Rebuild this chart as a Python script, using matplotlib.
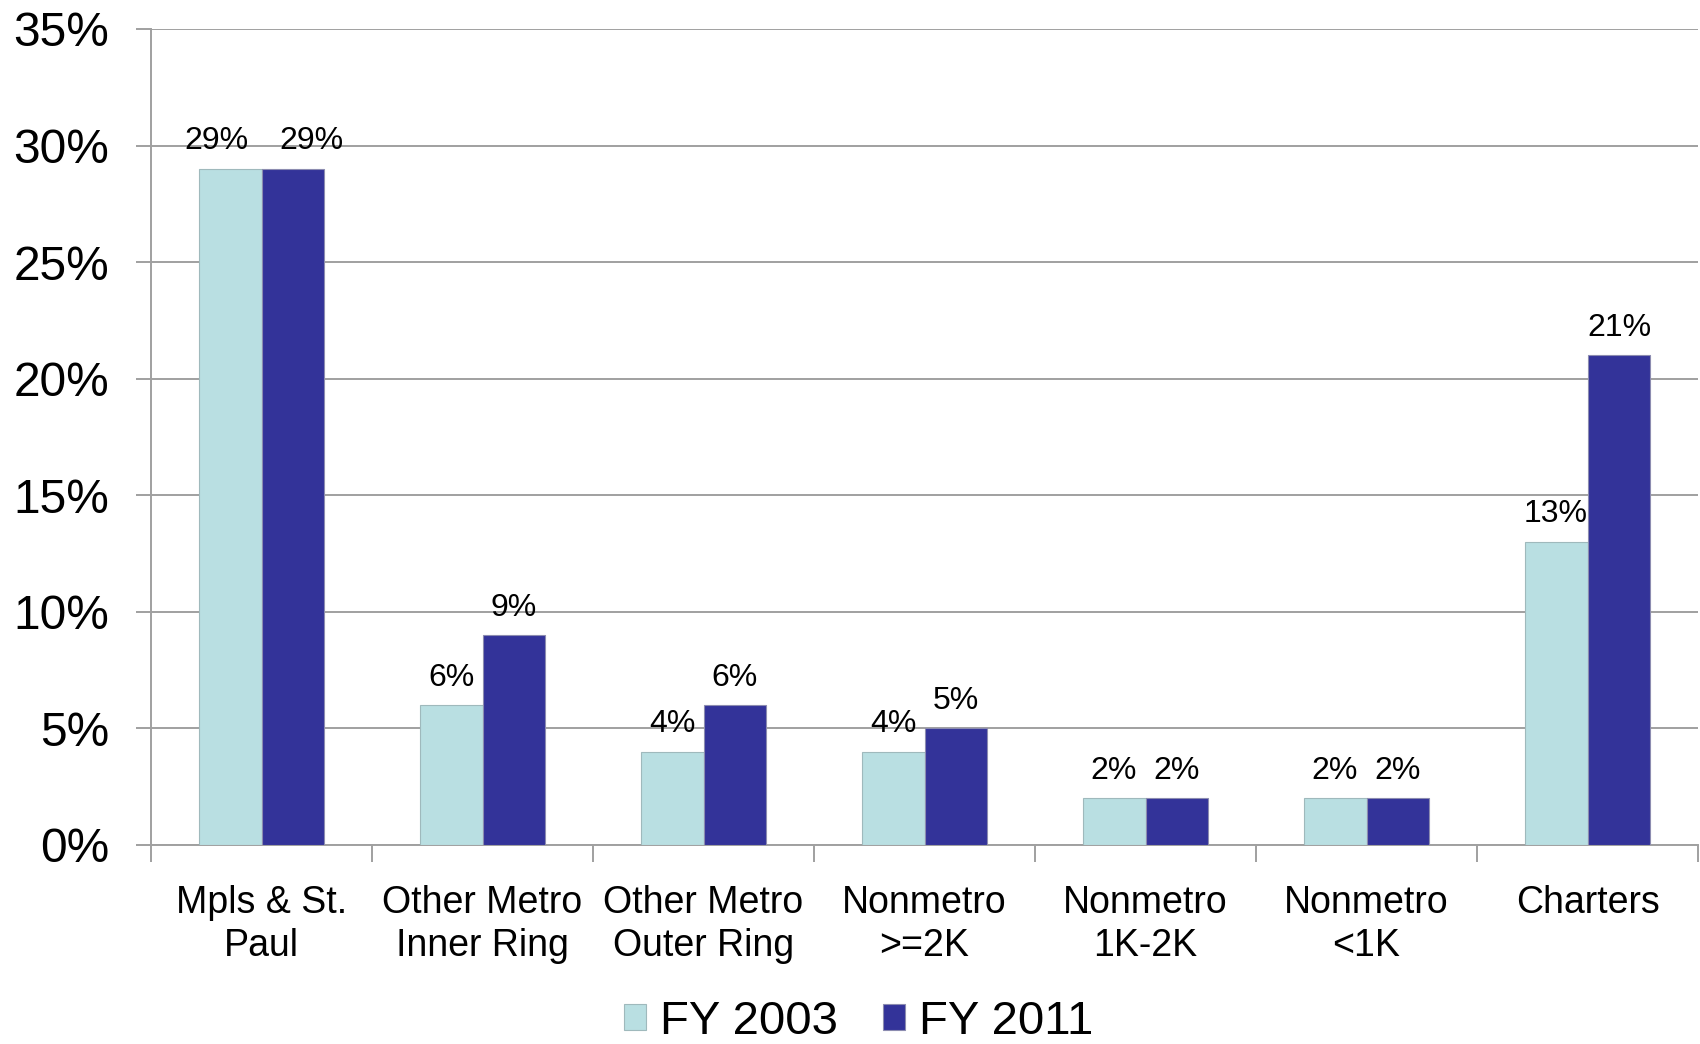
import matplotlib.pyplot as plt
import numpy as np

plt.rcParams['font.family'] = ['Liberation Sans', 'DejaVu Sans']

# data
categories = ['Mpls & St.\nPaul', 'Other Metro\nInner Ring', 'Other Metro\nOuter Ring',
              'Nonmetro\n>=2K', 'Nonmetro\n1K-2K', 'Nonmetro\n<1K', 'Charters']
fy2003 = [29, 6, 4, 4, 2, 2, 13]
fy2011 = [29, 9, 6, 5, 2, 2, 21]
series_names = ['FY 2003', 'FY 2011']

light = '#B9DFE2'
dark = '#333399'
grey = '#A0A0A0'

fig = plt.figure(figsize=(17, 10.44), dpi=100)
ax = fig.add_axes([151 / 1700, 1 - 845 / 1044, 1547 / 1700, 816 / 1044])

x = np.arange(len(categories))
w = 0.285
bars1 = ax.bar(x - w / 2, fy2003, w, color=light, edgecolor='#9FB9BC', linewidth=0.8,
               label=series_names[0], zorder=3)
bars2 = ax.bar(x + w / 2, fy2011, w, color=dark, edgecolor='#8C8CB0', linewidth=0.8,
               label=series_names[1], zorder=3)

ax.set_xlim(-0.5, len(categories) - 0.5)
ax.set_ylim(0, 35)
ax.set_yticks(range(0, 36, 5))
ax.set_yticklabels([f'{v}%' for v in range(0, 36, 5)], fontsize=34.5)
ax.yaxis.grid(True, color=grey, linewidth=1.4, zorder=0)
ax.set_axisbelow(True)

# category labels at centres, tick marks at the boundaries
ax.set_xticks(x)
ax.set_xticklabels(categories, fontsize=27, linespacing=1.25)
ax.set_xticks(np.arange(-0.5, len(categories), 1), minor=True)
ax.tick_params(axis='x', which='major', length=0, pad=29)
ax.tick_params(axis='x', which='minor', length=12, width=1.4, color=grey)
ax.tick_params(axis='y', length=11, width=1.4, color=grey, pad=19)

for side in ['top', 'right']:
    ax.spines[side].set_visible(False)
for side in ['left', 'bottom']:
    ax.spines[side].set_color(grey)
    ax.spines[side].set_linewidth(1.4)

# value labels (first pair nudged apart like the original)
for i, (b, v) in enumerate(zip(bars1, fy2003)):
    dx = -10 if i == 0 else 0
    ax.annotate(f'{v}%', (b.get_x() + b.get_width() / 2, v), xytext=(dx, 14),
                textcoords='offset points', ha='center', va='baseline', fontsize=23)
for i, (b, v) in enumerate(zip(bars2, fy2011)):
    dx = 13 if i == 0 else 0
    ax.annotate(f'{v}%', (b.get_x() + b.get_width() / 2, v), xytext=(dx, 14),
                textcoords='offset points', ha='center', va='baseline', fontsize=23)

fig.legend(handles=[bars1, bars2], labels=series_names, loc='lower center',
           bbox_to_anchor=(0.505, 0.0), ncol=2, frameon=False, fontsize=34,
           handlelength=0.47, handleheight=0.47, handletextpad=0.3,
           columnspacing=0.95, borderpad=0, borderaxespad=0)

fig.savefig('out.png', dpi=100)
